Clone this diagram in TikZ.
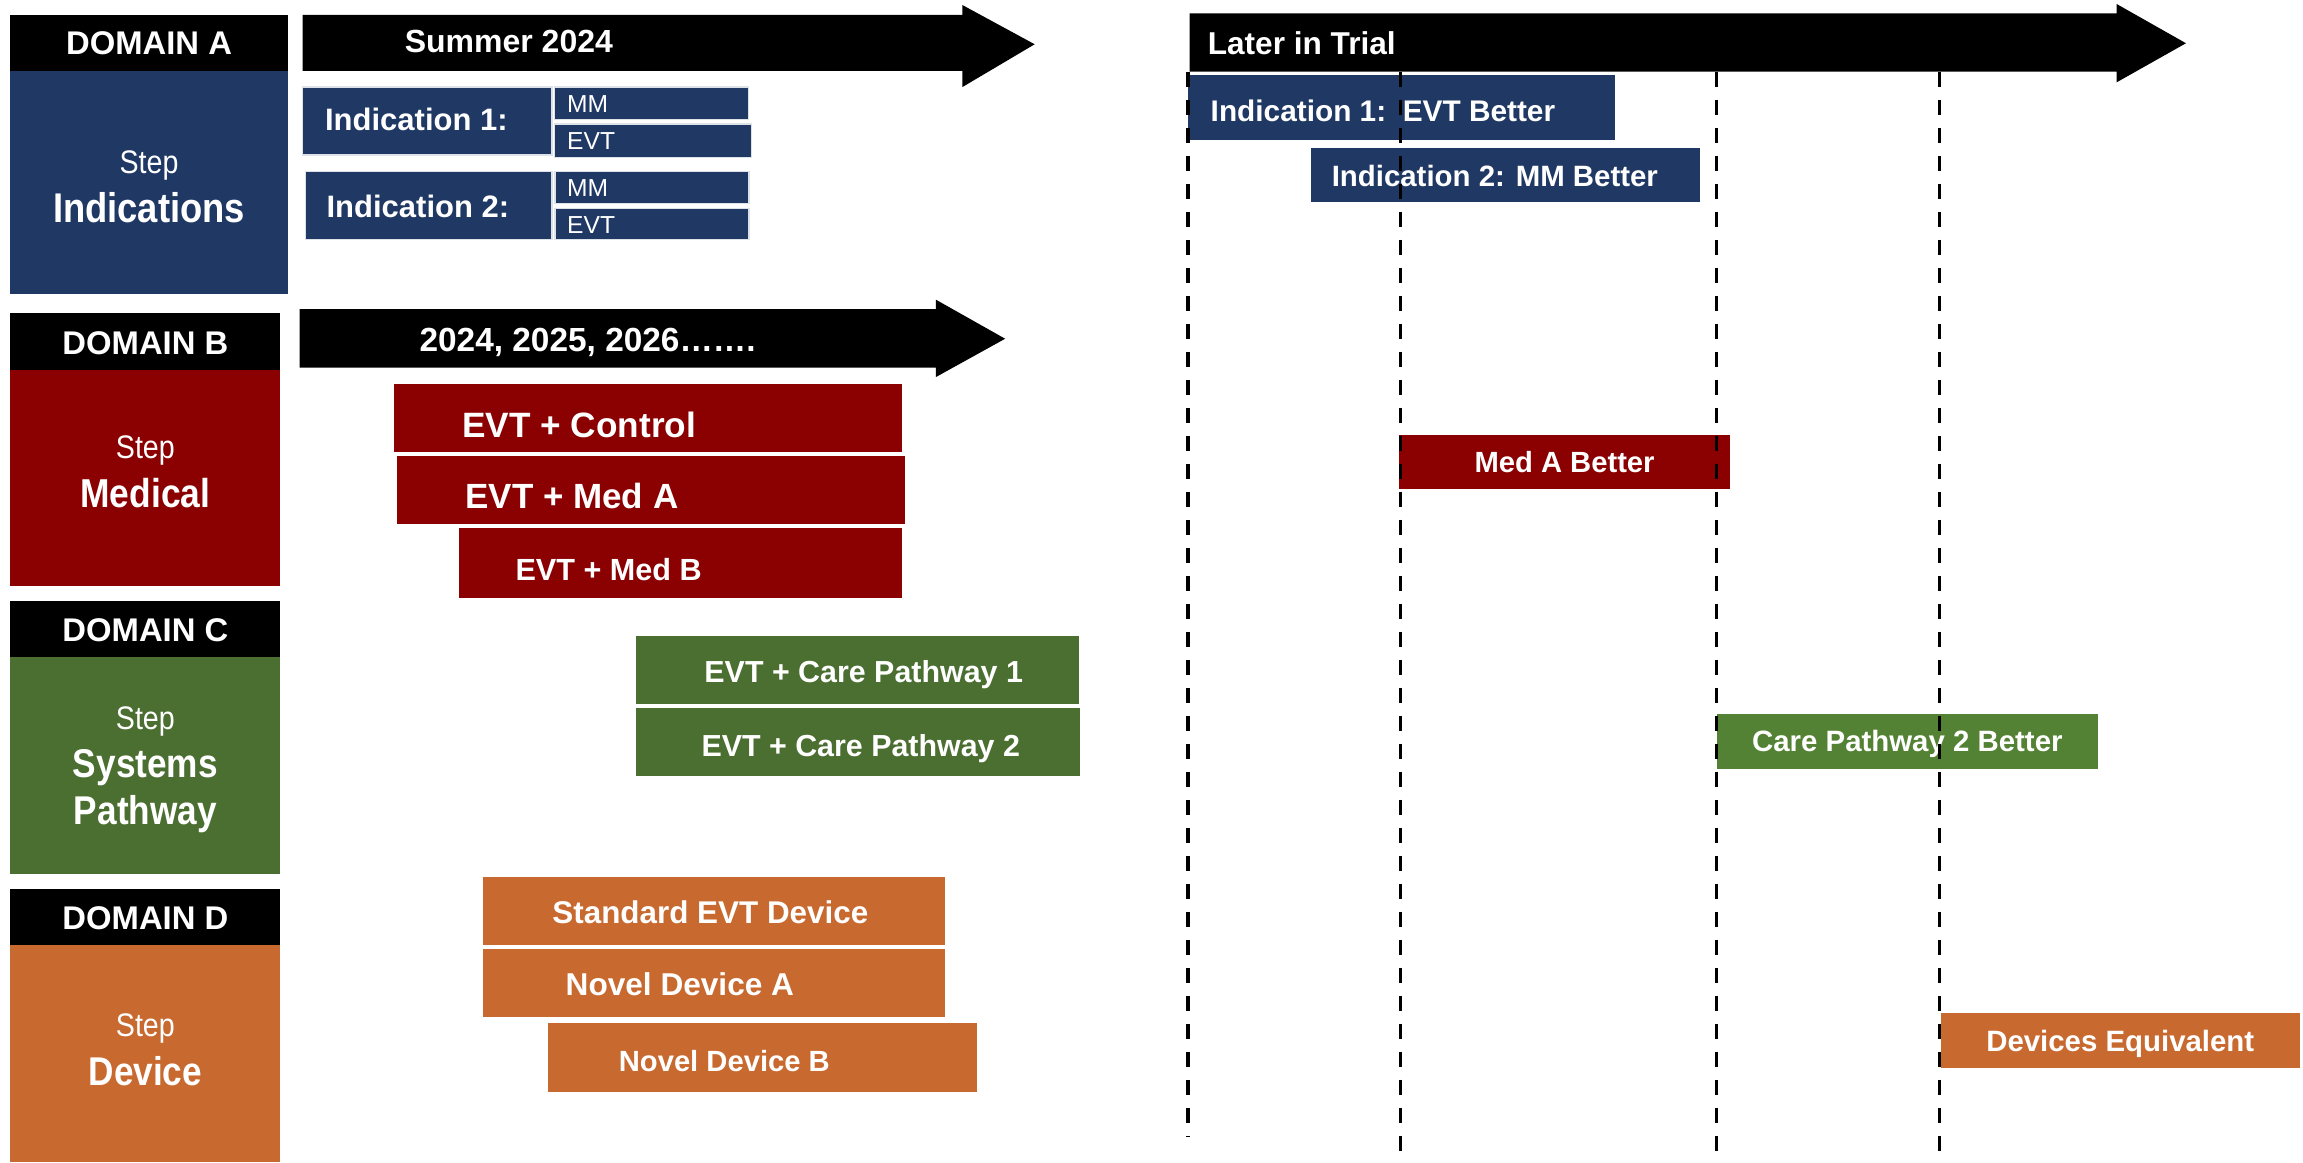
\documentclass[tikz,border=0pt]{standalone}
\usepackage{graphicx}
\usepackage{fontspec}
\setmainfont{Liberation Sans}
\definecolor{navy}{HTML}{1F3864}
\definecolor{dred}{HTML}{8B0000}
\definecolor{dgreen}{HTML}{4B6E31}
\definecolor{lgreen}{HTML}{548235}
\definecolor{orng}{HTML}{C8692F}
\newcommand\fs[1]{\fontsize{#1}{#1}\selectfont}
\newcommand\tl[1]{\scalebox{1}[1.14]{#1}}
\tikzset{
  bx/.style={draw=none, inner sep=0pt, outer sep=0pt, anchor=north west},
  lbl/.style={text=white, inner sep=0pt, text height=0pt, text depth=0pt, anchor=base},
  lblw/.style={lbl, anchor=base west},
  bf/.style={font=\bfseries\fs{#1}, yshift={-0.358*#1 pt}},
  rg/.style={font=\fs{#1}, yshift={-0.358*#1 pt}},
  tbf/.style={font=\bfseries\fs{#1}, yshift={-0.408*#1 pt}},
  trg/.style={font=\fs{#1}, yshift={-0.408*#1 pt}},
  tline/.style={draw=black, line width=1.7pt, dash pattern=on 7.4pt off 6.6pt},
  sm/.style={bx, draw=white!85!navy, line width=0.6pt},
}
\newcommand\bx[6]{\node[bx, fill=#6, minimum width={(#4-#2)*0.738pt}, minimum height={(#5-#3)*0.738pt}] (#1) at (#2,#3) {};}
\begin{document}
\begin{tikzpicture}[x=0.738pt, y=-0.738pt]
\useasboundingbox (0,0) rectangle (1560.3,787.3);
% ---------- domain column ----------
\bx{ha}{7}{10}{195}{48}{black}
\bx{ba}{7}{48}{195}{199}{navy}
\bx{hb}{7}{212}{190}{251}{black}
\bx{bb}{7}{251}{190}{397}{dred}
\bx{hc}{7}{407}{190}{445}{black}
\bx{bc}{7}{445}{190}{592}{dgreen}
\bx{hd}{7}{602}{190}{640}{black}
\bx{bd}{7}{640}{190}{787}{orng}
\node[lbl, bf=16.4] (tha) at (101,29) {DOMAIN A};
\node[lbl, trg=14.3] (sa) at (101,109.5) {\tl{Step}};
\node[lbl, tbf=18.2] (na) at (101,141) {\tl{Indications}};
\node[lbl, bf=16.4] (thb) at (98.5,232) {DOMAIN B};
\node[lbl, trg=14.3] (sb) at (98.5,303) {\tl{Step}};
\node[lbl, tbf=17.7] (nb) at (98.5,334) {\tl{Medical}};
\node[lbl, bf=16.4] (thc) at (98.5,427) {DOMAIN C};
\node[lbl, trg=14.3] (sc) at (98.5,486) {\tl{Step}};
\node[lbl, tbf=17.6] (nc1) at (98.5,517) {\tl{Systems}};
\node[lbl, tbf=17.6] (nc2) at (98.5,549) {\tl{Pathway}};
\node[lbl, bf=16.4] (thd) at (98.5,622) {DOMAIN D};
\node[lbl, trg=14.3] (sd) at (98.5,694) {\tl{Step}};
\node[lbl, tbf=17.6] (nd) at (98.5,726) {\tl{Device}};
% ---------- timeline arrows ----------
\fill[black] (205,10) -- (652,10) -- (652,3.4) -- (701,30) -- (652,59) -- (652,48) -- (205,48) -- cycle;
\node[lblw, bf=16] (tsum) at (274,28) {Summer 2024};
\fill[black] (203,209.5) -- (634,209.5) -- (634,203) -- (681,229.5) -- (634,255.5) -- (634,249) -- (203,249) -- cycle;
\node[lblw, bf=16.7] (tyrs) at (284,230) {2024, 2025, 2026…….};
\fill[black] (806,9) -- (1434,9) -- (1434,2.7) -- (1481,29.3) -- (1434,55.8) -- (1434,48.6) -- (806,48.6) -- cycle;
\node[lblw, bf=15.8] (tlat) at (818,29) {Later in Trial};
% ---------- indications ----------
\node[sm, fill=navy, minimum width={(374-205)*0.738pt}, minimum height={(105-59)*0.738pt}] (ind1) at (205,59) {};
\node[sm, fill=navy, minimum width={(507-375.5)*0.738pt}, minimum height={(81-59)*0.738pt}] (mm1) at (375.5,59) {};
\node[sm, fill=navy, minimum width={(509-375.5)*0.738pt}, minimum height={(106.5-84)*0.738pt}] (evt1) at (375.5,84) {};
\node[sm, fill=navy, minimum width={(374-207)*0.738pt}, minimum height={(162-116)*0.738pt}] (ind2) at (207,116) {};
\node[sm, fill=navy, minimum width={(507.5-376)*0.738pt}, minimum height={(138-116)*0.738pt}] (mm2) at (376,116) {};
\node[sm, fill=navy, minimum width={(507.5-376)*0.738pt}, minimum height={(162-141)*0.738pt}] (evt2) at (376,141) {};
\node[lblw, bf=15.5] (tind1) at (220,81) {Indication 1:};
\node[lblw, bf=15.5] (tind2) at (221,140) {Indication 2:};
\node[lblw, rg=12.3] (tmm1) at (384,70) {MM};
\node[lblw, rg=12.3] (tevt1) at (384,95) {EVT};
\node[lblw, rg=12.3] (tmm2) at (384,127.5) {MM};
\node[lblw, rg=12.3] (tevt2) at (384,152) {EVT};
% ---------- medical ----------
\bx{ctrl}{267}{260}{611}{306}{dred}
\bx{meda}{269}{309}{613}{355}{dred}
\bx{medb}{311}{358}{611}{405}{dred}
\node[lblw, bf=17.6] (tctrl) at (313,288) {EVT + Control};
\node[lblw, bf=17.5] (tmeda) at (315,336) {EVT + Med A};
\node[lblw, bf=15.3] (tmedb) at (349,386) {EVT + Med B};
% ---------- systems ----------
\bx{cp1}{431}{431}{731}{477}{dgreen}
\bx{cp2}{431}{480}{732}{526}{dgreen}
\node[lblw, bf=15.2] (tcp1) at (477,455) {EVT + Care Pathway 1};
\node[lblw, bf=15.2] (tcp2) at (475,505) {EVT + Care Pathway 2};
% ---------- devices ----------
\bx{std}{327}{594}{640}{640}{orng}
\bx{nda}{327}{643}{640}{689}{orng}
\bx{ndb}{371}{693}{662}{740}{orng}
\node[lblw, bf=15.7] (tstd) at (374,618) {Standard EVT Device};
\node[lblw, bf=15.8] (tnda) at (383,667) {Novel Device A};
\node[lblw, bf=14.6] (tndb) at (419,719) {Novel Device B};
% ---------- later in trial ----------
\bx{r1}{805}{51}{1094}{95}{navy}
\bx{r2}{888}{100.5}{1152}{137}{navy}
\bx{mab}{948}{294.5}{1172}{331.5}{dred}
\bx{cpb}{1163}{483.5}{1421.5}{521}{lgreen}
\bx{deq}{1315}{686.5}{1558}{723.5}{orng}
\node[lblw, bf=14.9] (tr1) at (820,75) {Indication 1:\ \ EVT Better};
\node[lblw, bf=14.7] (tr2) at (902,119) {Indication 2: MM Better};
\node[lbl, bf=14.6] (tmab) at (mab.center) {Med A Better};
\node[lbl, bf=14.7] (tcpb) at (cpb.center) {Care Pathway 2 Better};
\node[lbl, bf=14.7] (tdeq) at (deq.center) {Devices Equivalent};
% ---------- dashed time lines ----------
\coordinate (l1t) at (805,48.6); \coordinate (l1b) at (805,770);
\coordinate (l2t) at (949,48.6); \coordinate (l2b) at (949,787.3);
\coordinate (l3t) at (1163,48.6); \coordinate (l3b) at (1163,780);
\coordinate (l4t) at (1314,48.6); \coordinate (l4b) at (1314,787.3);
\draw[tline] (l1t) -- (l1b);
\draw[tline] (l2t) -- (l2b);
\draw[tline] (l3t) -- (l3b);
\draw[tline] (l4t) -- (l4b);
\end{tikzpicture}
\end{document}
